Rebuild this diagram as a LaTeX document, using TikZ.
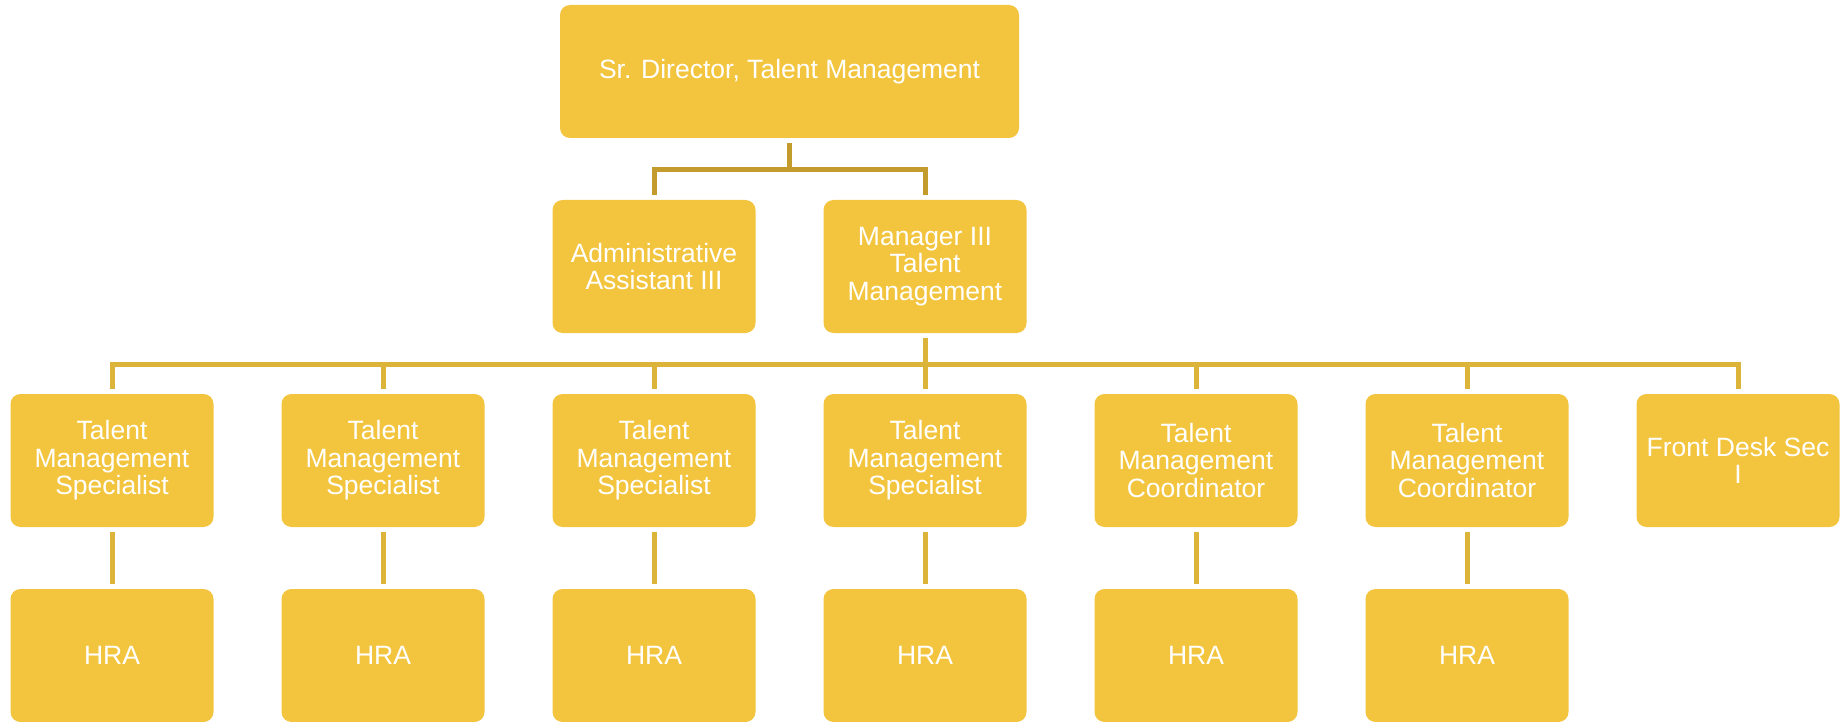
\documentclass[tikz,border=0pt]{standalone}
\usepackage{fontspec}
\setmainfont{Liberation Sans}
\definecolor{boxgold}{HTML}{F3C53F}
\definecolor{topgold}{HTML}{C49C2E}
\definecolor{linegold}{HTML}{DDB43A}
\begin{document}
\begin{tikzpicture}[x=0.5pt,y=-0.5pt,
		posbox/.style={rectangle, rounded corners=5pt, fill=boxgold, text=white,
			minimum width=101.5pt, minimum height=66.5pt, inner sep=0pt,
			outer sep=2.5pt, align=center, font=\fontsize{13.25}{13.75}\selectfont},
		topline/.style={draw=topgold, line width=2.5pt},
		busline/.style={draw=linegold, line width=2.5pt}]
			\useasboundingbox (0,0) rectangle (1843,722);
			\def\rowa{266.5}
			\def\rowb{460.5}
			\def\rowc{655.5}
			
			\node[posbox, minimum width=229.5pt] (top) at (789.5,71.5) {Sr. Director, Talent Management};
			\node[posbox] (admin) at (654,\rowa) {Administrative\\Assistant III};
			\node[posbox] (mgr) at (925,\rowa) {Manager III\\Talent\\Management};
			
			\node[posbox] (spec1) at (112,\rowb) {Talent\\Management\\Specialist};
			\node[posbox] (spec2) at (383,\rowb) {Talent\\Management\\Specialist};
			\node[posbox] (spec3) at (654,\rowb) {Talent\\Management\\Specialist};
			\node[posbox] (spec4) at (925,\rowb) {Talent\\Management\\Specialist};
			\node[posbox] (coord1) at (1196,\rowb) {Talent\\Management\\Coordinator};
			\node[posbox] (coord2) at (1467,\rowb) {Talent\\Management\\Coordinator};
			\node[posbox] (desk) at (1738,\rowb) {Front Desk Sec\\I};
			
			\node[posbox] (hra1) at (112,\rowc) {HRA};
			\node[posbox] (hra2) at (383,\rowc) {HRA};
			\node[posbox] (hra3) at (654,\rowc) {HRA};
			\node[posbox] (hra4) at (925,\rowc) {HRA};
			\node[posbox] (hra5) at (1196,\rowc) {HRA};
			\node[posbox] (hra6) at (1467,\rowc) {HRA};
			
			\coordinate (j1) at (789.5,169.5);
			\coordinate (bus) at (925,364);
			
			\draw[topline] (top) -- (j1);
			\draw[topline] (admin) |- (j1) -| (mgr);
			
			\draw[busline] (mgr) -- (bus);
			\draw[busline] (spec1) |- (bus) -| (desk);
			\draw[busline] (spec2) -- (spec2 |- bus);
			\draw[busline] (spec3) -- (spec3 |- bus);
			\draw[busline] (spec4) -- (bus);
			\draw[busline] (coord1) -- (coord1 |- bus);
			\draw[busline] (coord2) -- (coord2 |- bus);
			
			\draw[busline] (spec1) -- (hra1);
			\draw[busline] (spec2) -- (hra2);
			\draw[busline] (spec3) -- (hra3);
			\draw[busline] (spec4) -- (hra4);
			\draw[busline] (coord1) -- (hra5);
			\draw[busline] (coord2) -- (hra6);

		\end{tikzpicture}
\end{document}
